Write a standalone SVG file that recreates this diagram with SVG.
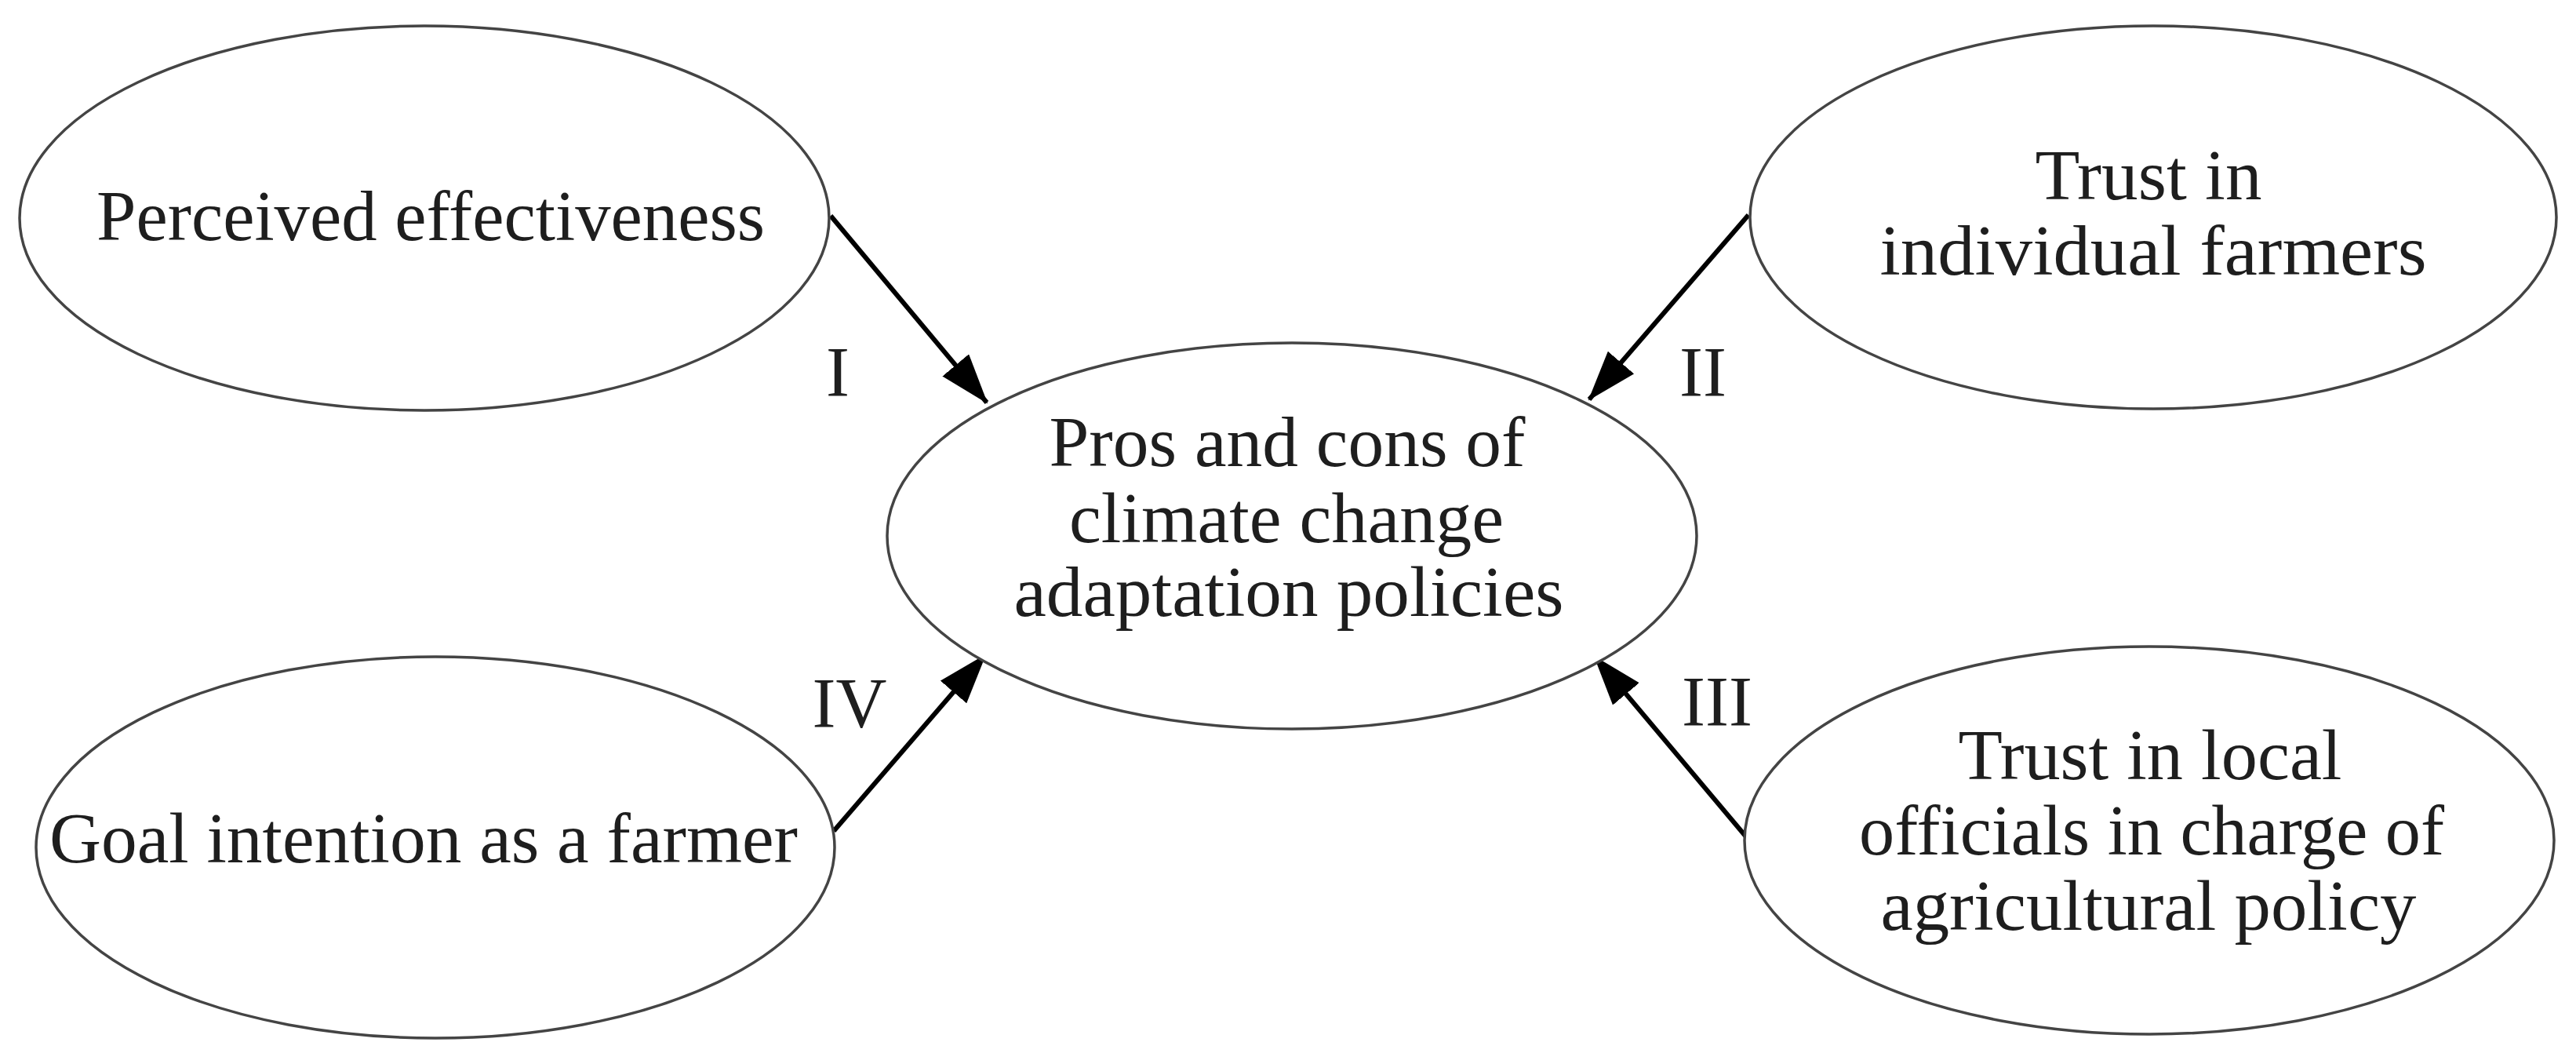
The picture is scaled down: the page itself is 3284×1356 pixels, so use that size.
<svg xmlns="http://www.w3.org/2000/svg" width="3284" height="1356" viewBox="0 0 3284 1356">
<style>
.node ellipse{fill:#fff;stroke:#444;stroke-width:3.5}
text{font-family:"Liberation Serif","Times New Roman",serif;font-size:90px;fill:#1e1e1e;text-anchor:middle}
.conn line{stroke:#000;stroke-width:6}
</style>
<defs>
<marker id="ah" viewBox="0 0 64 44" refX="62" refY="22" markerWidth="64" markerHeight="44" markerUnits="userSpaceOnUse" orient="auto">
<path d="M0,0 L64,22 L0,44 z" fill="#000"/>
</marker>
</defs>
<rect width="3284" height="1356" fill="#fff"/>
<g id="connectors" class="conn">
<line x1="1059" y1="275" x2="1258" y2="513" marker-end="url(#ah)"/>
<line x1="2229" y1="274" x2="2026" y2="509" marker-end="url(#ah)"/>
<line x1="1063" y1="1059" x2="1256" y2="835" marker-end="url(#ah)"/>
<line x1="2229" y1="1070" x2="2033" y2="837" marker-end="url(#ah)"/>
<text x="1068" y="505">I</text>
<text x="2171" y="505">II</text>
<text x="2189" y="925">III</text>
<text x="1083" y="927">IV</text>
</g>
<g id="perceived" class="node">
<ellipse cx="541" cy="278" rx="516" ry="245"/>
<text x="549" y="306" textLength="852" lengthAdjust="spacingAndGlyphs">Perceived effectiveness</text>
</g>
<g id="center" class="node">
<ellipse cx="1647" cy="683" rx="516" ry="246"/>
<text x="1641" y="594" textLength="607" lengthAdjust="spacingAndGlyphs">Pros and cons of</text>
<text x="1640" y="691" textLength="554" lengthAdjust="spacingAndGlyphs">climate change</text>
<text x="1643" y="785" textLength="701" lengthAdjust="spacingAndGlyphs">adaptation policies</text>
</g>
<g id="trust-farmers" class="node">
<ellipse cx="2745" cy="277" rx="514" ry="244"/>
<text x="2739" y="254" textLength="289" lengthAdjust="spacingAndGlyphs">Trust in</text>
<text x="2745" y="350" textLength="697" lengthAdjust="spacingAndGlyphs">individual farmers</text>
</g>
<g id="goal" class="node">
<ellipse cx="555" cy="1080" rx="509" ry="243"/>
<text x="540" y="1099" textLength="954" lengthAdjust="spacingAndGlyphs">Goal intention as a farmer</text>
</g>
<g id="trust-officials" class="node">
<ellipse cx="2740" cy="1071" rx="516" ry="247"/>
<text x="2741" y="993" textLength="489" lengthAdjust="spacingAndGlyphs">Trust in local</text>
<text x="2743" y="1089" textLength="746" lengthAdjust="spacingAndGlyphs">officials in charge of</text>
<text x="2739" y="1185" textLength="683" lengthAdjust="spacingAndGlyphs">agricultural policy</text>
</g>
</svg>
